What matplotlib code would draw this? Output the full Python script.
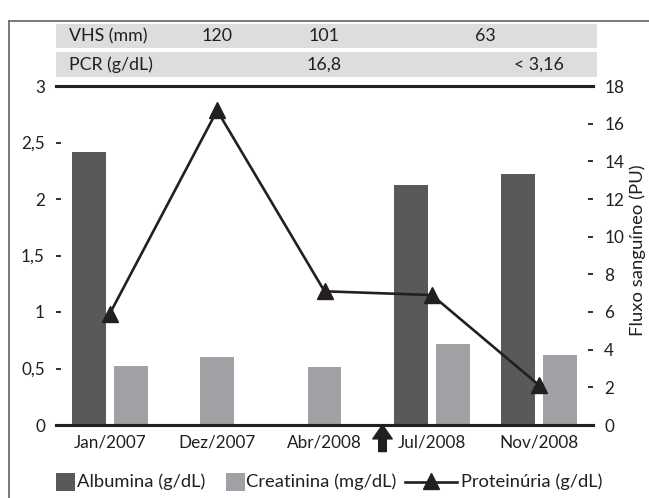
import matplotlib
matplotlib.use("Agg")
import matplotlib.pyplot as plt
from matplotlib.patches import Rectangle
from matplotlib.lines import Line2D
import matplotlib.transforms as mtransforms
from matplotlib.ticker import FuncFormatter

plt.rcParams['font.family'] = ['Lato', 'DejaVu Sans']

# ---- data ----
categories = ["Jan/2007", "Dez/2007", "Abr/2008", "Jul/2008", "Nov/2008"]
albumina = [2.42, None, None, 2.12, 2.22]
creatinina = [0.52, 0.60, 0.51, 0.72, 0.62]
proteinuria = [5.9, 16.7, 7.1, 6.9, 2.1]
left_ticks = [0, 0.5, 1, 1.5, 2, 2.5, 3]
right_ticks = [0, 2, 4, 6, 8, 10, 12, 14, 16, 18]
vhs_label = "VHS (mm)"
vhs_pos = [1, 2, 3.5]
vhs_vals = ["120", "101", "63"]
pcr_label = "PCR (g/dL)"
pcr_pos = [2, 4]
pcr_vals = ["16,8", "< 3,16"]
arrow_pos = 2.54
legend_labels = ["Albumina (g/dL)", "Creatinina (mg/dL)", "Proteinúria (g/dL)"]
right_label = "Fluxo sanguíneo (PU)"

DARK = "#58595b"
LIGHT = "#a0a1a4"
BAND = "#dcdddf"
INK = "#231f20"

W, H = 649, 498
fig = plt.figure(figsize=(W / 100, H / 100), dpi=100)

def fx(px):
    return px / W

def fy(py):
    return 1 - py / H

ax = fig.add_axes([fx(56), fy(425), fx(593) - fx(56), fy(86) - fy(425)])
ax2 = ax.twinx()

bw = 0.316
off = 0.195
for i, (a, c) in enumerate(zip(albumina, creatinina)):
    if a is None:
        ax.bar(i, c, width=bw, color=LIGHT, zorder=2)
    else:
        ax.bar(i - off, a, width=bw, color=DARK, zorder=2)
        ax.bar(i + off, c, width=bw, color=LIGHT, zorder=2)

ax.set_xlim(-0.5, 4.5)
ax.set_ylim(0, 3)
ax2.set_ylim(0, 18)
ax2.plot(range(len(proteinuria)), proteinuria, color=INK, lw=1.9,
         marker='^', ms=11, mfc=INK, mec=INK, zorder=5, clip_on=False)

for a in (ax, ax2):
    a.spines['left'].set_visible(False)
    a.spines['right'].set_visible(False)
    a.spines['top'].set_linewidth(2.2)
    a.spines['bottom'].set_linewidth(2.2)
    a.spines['top'].set_color(INK)
    a.spines['bottom'].set_color(INK)

FS = 12.3
ax.set_xticks(range(len(categories)))
ax.set_xticklabels(categories, fontsize=FS, color=INK)
ax.tick_params(axis='x', length=0, pad=7)
ax.set_yticks(left_ticks)
ax.yaxis.set_major_formatter(FuncFormatter(lambda v, p: f"{v:g}".replace('.', ',')))
ax.tick_params(axis='y', direction='in', length=3.5, width=1.3, color=INK,
               labelsize=FS, labelcolor=INK, pad=8)
ax2.set_yticks(right_ticks)
ax2.tick_params(axis='y', direction='in', length=3.5, width=1.3, color=INK,
                labelsize=FS, labelcolor=INK, pad=8)
ax2.set_zorder(ax.get_zorder() + 1)
ax2.patch.set_visible(False)

# arrow below axis
ax.annotate('', xy=(arrow_pos, 0), xycoords='data',
            xytext=(arrow_pos, -0.235), textcoords='data',
            arrowprops=dict(facecolor=INK, edgecolor=INK, width=5.5, headwidth=14,
                            headlength=10, shrink=0), annotation_clip=False)

# frame
fig.add_artist(Line2D([fx(9), fx(9)], [fy(21), 0], color="#6d6e70", lw=1.3))
fig.add_artist(Line2D([fx(9), 1], [fy(21), fy(21)], color="#6d6e70", lw=1.3))

# table bands
blend = mtransforms.blended_transform_factory(ax.transData, fig.transFigure)
band_x0, band_x1 = fx(56), fx(597)
fig.add_artist(Rectangle((band_x0, fy(48)), band_x1 - band_x0, fy(24) - fy(48),
                         color=BAND, lw=0, transform=fig.transFigure, zorder=1))
fig.add_artist(Rectangle((band_x0, fy(77)), band_x1 - band_x0, fy(52) - fy(77),
                         color=BAND, lw=0, transform=fig.transFigure, zorder=1))
fig.text(fx(69), fy(36), vhs_label, fontsize=12.8, color=INK, va='center', ha='left', zorder=5)
for p, v in zip(vhs_pos, vhs_vals):
    fig.text(p, fy(36), v, transform=blend, fontsize=12.8, color=INK,
             va='center', ha='center', zorder=5)
fig.text(fx(69), fy(65), pcr_label, fontsize=12.8, color=INK, va='center', ha='left', zorder=5)
for p, v in zip(pcr_pos, pcr_vals):
    fig.text(p, fy(65), v, transform=blend, fontsize=12.8, color=INK,
             va='center', ha='center', zorder=5)

# right label
fig.text(fx(638), fy(250), right_label, rotation=90, fontsize=13.3, color=INK,
         va='center', ha='center')

# legend
ly = 482
LFS = 13.2
fig.add_artist(Rectangle((fx(56), fy(ly + 9)), fx(19), 18 / H, color=DARK, lw=0,
                         transform=fig.transFigure))
fig.text(fx(77), fy(ly), legend_labels[0], fontsize=LFS, color=INK, va='center', ha='left')
fig.add_artist(Rectangle((fx(226), fy(ly + 9)), fx(19), 18 / H, color=LIGHT, lw=0,
                         transform=fig.transFigure))
fig.text(fx(246), fy(ly), legend_labels[1], fontsize=LFS, color=INK, va='center', ha='left')
fig.add_artist(Line2D([fx(405), fx(457)], [fy(ly), fy(ly)], color=INK, lw=1.9))
fig.add_artist(Line2D([fx(431)], [fy(ly - 1)], color=INK, marker='^', ms=11, lw=0))
fig.text(fx(461), fy(ly), legend_labels[2], fontsize=LFS, color=INK, va='center', ha='left')

fig.savefig("out.png", dpi=100)
